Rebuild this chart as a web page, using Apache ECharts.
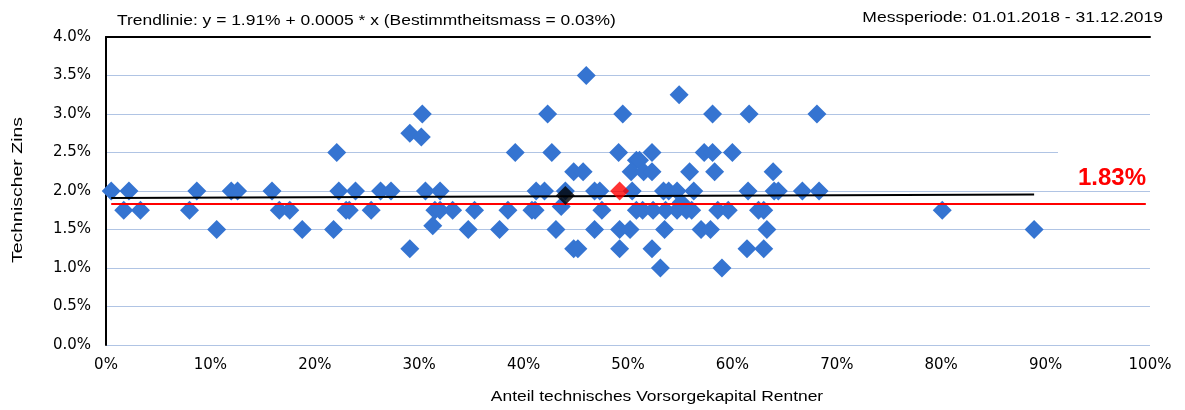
<!DOCTYPE html>
<html>
<head>
<meta charset="utf-8">
<script src="https://cdn.jsdelivr.net/npm/echarts@6/dist/echarts.min.js"></script>
<style>html,body{margin:0;padding:0;background:#fff}#c{width:1185px;height:410px}</style>
</head>
<body>
<div id="c"></div>
<script>
// Anteil technisches Vorsorgekapital Rentner (%)
const xValues = [
  0.5, 2.2, 1.7, 3.3, 8.0, 8.7, 10.6, 12.0, 12.6, 15.9,
  16.6, 17.6, 18.8, 22.1, 22.3, 21.8, 23.0, 23.3, 23.9, 25.4,
  26.3, 27.3, 30.3, 29.1, 30.2, 29.1, 30.6, 32.0, 31.3, 31.5,
  32.0, 33.2, 35.3, 34.7, 37.7, 38.5, 39.2, 40.8, 41.1, 41.2,
  42.0, 42.3, 42.7, 43.1, 43.6, 44.0, 44.8, 45.7, 44.8, 45.2,
  46.0, 46.8, 47.3, 46.8, 47.5, 49.1, 49.5, 49.2, 50.2, 49.2,
  50.4, 50.3, 50.8, 50.8, 54.9, 58.1, 61.6, 68.1, 52.3, 51.1,
  57.3, 58.1, 60.0, 51.5, 52.3, 55.9, 58.3, 63.9, 53.4, 53.9,
  54.7, 56.3, 61.5, 64.0, 64.4, 66.7, 68.3, 51.4, 52.4, 53.6,
  54.7, 55.1, 55.6, 56.1, 58.6, 59.6, 62.5, 63.0, 53.5, 57.0,
  57.9, 63.3, 52.3, 61.4, 63.0, 53.1, 59.0, 80.1, 88.9
];
// Technischer Zins (%)
const yValues = [
  2.0, 2.0, 1.75, 1.75, 1.75, 2.0, 1.5, 2.0, 2.0, 2.0,
  1.75, 1.75, 1.5, 2.5, 2.0, 1.5, 1.75, 1.75, 2.0, 1.75,
  2.0, 2.0, 3.0, 2.75, 2.7, 1.25, 2.0, 2.0, 1.55, 1.75,
  1.75, 1.75, 1.75, 1.5, 1.5, 1.75, 2.5, 1.75, 1.75, 2.0,
  2.0, 3.0, 2.5, 1.5, 1.8, 2.0, 2.25, 2.25, 1.25, 1.25,
  3.5, 2.0, 2.0, 1.5, 1.75, 2.5, 3.0, 1.5, 1.5, 1.25,
  2.0, 2.25, 2.4, 1.75, 3.25, 3.0, 3.0, 3.0, 2.5, 2.4,
  2.5, 2.5, 2.5, 2.25, 2.25, 2.25, 2.25, 2.25, 2.0, 2.0,
  2.0, 2.0, 2.0, 2.0, 2.0, 2.0, 2.0, 1.75, 1.75, 1.75,
  1.75, 1.85, 1.75, 1.75, 1.75, 1.75, 1.75, 1.75, 1.5, 1.5,
  1.5, 1.5, 1.25, 1.25, 1.25, 1.0, 1.0, 1.75, 1.5
];
const averagePoint = [44.0, 1.94];
const highlightPoint = [49.2, 2.0];
const trendIntercept = 1.91;
const trendSlope = 0.0005;
const referenceValue = 1.83;
const referenceRange = [0.5, 99.6];
const xTicks = [0, 100, 10];
const yTicks = [0, 4, 0.5];
const titleText = 'Trendlinie: y = 1.91% + 0.0005 * x (Bestimmtheitsmass = 0.03%)';
const periodText = 'Messperiode: 01.01.2018 - 31.12.2019';
const xName = 'Anteil technisches Vorsorgekapital Rentner';
const yName = 'Technischer Zins';

const points = xValues.map((x, i) => [x, yValues[i]]);
const xMin = Math.min(...xValues), xMax = Math.max(...xValues);
const trendData = [[xMin, trendIntercept + trendSlope * xMin], [xMax, trendIntercept + trendSlope * xMax]];
const refData = [[referenceRange[0], referenceValue], [referenceRange[1], referenceValue]];

const FONT = "'Liberation Sans', Arial, sans-serif";
const TICKFONT = "'DejaVu Sans', sans-serif";
const chart = echarts.init(document.getElementById('c'), null, {renderer: 'canvas'});
const gridLeft = 106, gridRight = 35, gridTop = 37, gridBottom = 65;

function stretchedText(text, x, y, align, sx, opts) {
  return Object.assign({
    type: 'text', x: x, y: y, scaleX: sx, scaleY: 1, z: 6,
    style: {text: text, fill: '#000', font: '14px ' + FONT, textAlign: align, textVerticalAlign: 'middle'}
  }, opts || {});
}

chart.setOption({
  animation: false,
  backgroundColor: '#fff',
  textStyle: {fontFamily: FONT},
  grid: {left: gridLeft, right: gridRight, top: gridTop, bottom: gridBottom},
  xAxis: [
    {type: 'value', min: xTicks[0], max: xTicks[1], interval: xTicks[2],
     axisLine: {show: false}, axisTick: {show: false}, splitLine: {show: false},
     axisLabel: {formatter: v => v + '%', fontSize: 15, color: '#000', margin: 13, fontFamily: TICKFONT}},
    {type: 'value', position: 'top', min: xTicks[0], max: xTicks[1],
     axisLine: {show: true, onZero: false, lineStyle: {color: '#000', width: 2}},
     axisTick: {show: false}, axisLabel: {show: false}, splitLine: {show: false}}
  ],
  yAxis: {
    type: 'value', min: yTicks[0], max: yTicks[1], interval: yTicks[2],
    axisLine: {show: true, lineStyle: {color: '#000', width: 2}},
    axisTick: {show: false},
    axisLabel: {formatter: v => v.toFixed(1) + '%', fontSize: 15, color: '#000', margin: 15, fontFamily: TICKFONT},
    splitLine: {show: true, lineStyle: {color: '#b0c4e4', width: 1}}
  },
  graphic: [
    {type: 'rect', shape: {x: 1058, y: 142, width: 95, height: 44}, style: {fill: '#fff'}, z: 5},
    {type: 'text', x: 1146, y: 178, z: 6,
     style: {text: referenceValue.toFixed(2) + '%', fill: '#ff0000', font: "bold 24px " + FONT,
             textAlign: 'right', textVerticalAlign: 'middle'}},
    stretchedText(titleText, 117, 21, 'left', 1.245),
    stretchedText(periodText, 1163, 18.5, 'right', 1.25),
    stretchedText(xName, 657, 397, 'center', 1.245),
    stretchedText(yName, 18, 190, 'center', 1.39, {rotation: Math.PI / 2})
  ],
  series: [
    {type: 'scatter', data: points, symbol: 'diamond', symbolSize: 19,
     itemStyle: {color: '#3574d1', opacity: 1}, z: 2},
    {type: 'line', data: trendData, showSymbol: false, symbol: 'none',
     lineStyle: {color: '#000', width: 2}, z: 3},
    {type: 'line', data: refData, showSymbol: false, symbol: 'none',
     lineStyle: {color: '#ff0000', width: 2}, z: 3},
    {type: 'scatter', data: [averagePoint], symbol: 'diamond', symbolSize: 19,
     itemStyle: {color: '#000'}, z: 4},
    {type: 'scatter', data: [highlightPoint], symbol: 'diamond', symbolSize: 19,
     itemStyle: {color: '#ff0000'}, z: 4}
  ]
});
</script>
</body>
</html>
